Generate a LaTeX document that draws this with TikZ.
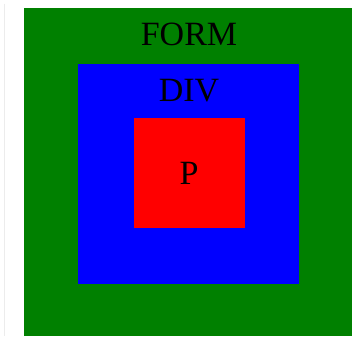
\documentclass[tikz,border=0pt]{standalone}
\usepackage{fontspec}
\setmainfont{Liberation Serif}
\usetikzlibrary{positioning}

\definecolor{formgreen}{HTML}{008000}
\definecolor{divblue}{HTML}{0000FF}
\definecolor{pred}{HTML}{FF0000}

\begin{document}
\begin{tikzpicture}[
  x=1pt, y=-1pt,
  font=\fontsize{34}{40}\selectfont,
  box/.style={
    draw=none,
    inner sep=0pt,
    outer sep=0pt,
    anchor=north west
  },
  tag/.style={
    inner sep=0pt,
    anchor=base,
    text=black
  }
]
  \useasboundingbox (0,0) rectangle (352,336);
  \fill[white] (0,0) rectangle (352,336);
  \draw[gray!15, line width=1pt] (4.5,4) -- (4.5,336);

  \node[box, fill=formgreen, minimum width=328pt, minimum height=328pt] (form) at (24,8) {};
  \node[box, fill=divblue, minimum width=221pt, minimum height=220pt] (div) at (78,64) {};
  \node[box, fill=pred, minimum width=111pt, minimum height=110pt] (p) at (134,118) {};

  \node[tag] (formtag) at (189,46) {FORM};
  \node[tag] (divtag) at (189,102) {DIV};
  \node[tag] (ptag) at (189,184) {P};
\end{tikzpicture}
\end{document}
